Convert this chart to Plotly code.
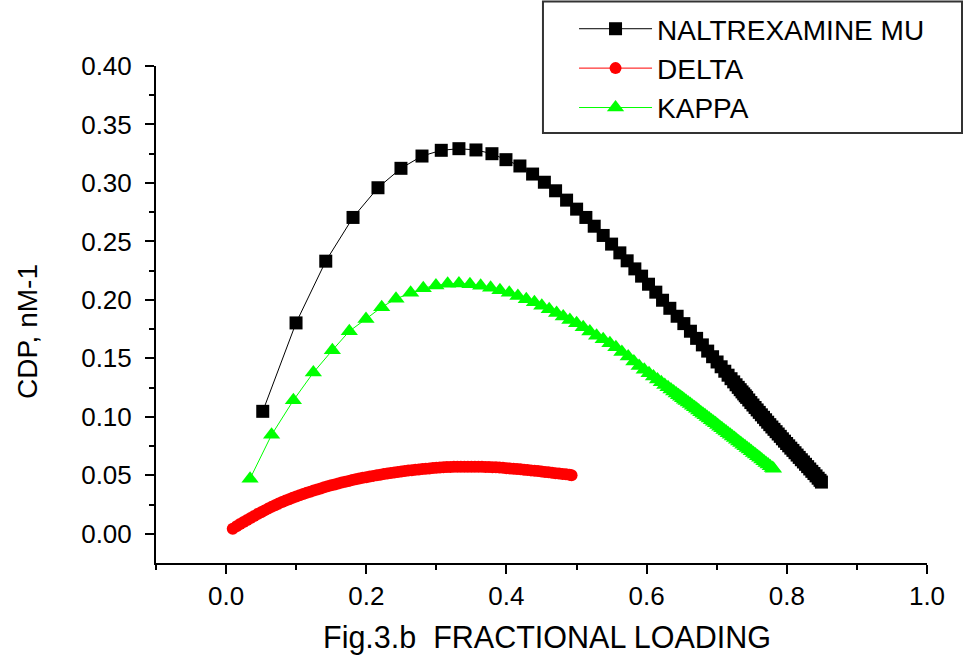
import plotly.graph_objects as go

# ---- data ----
mu_x = [0.0523, 0.0998, 0.1422, 0.1811, 0.2167, 0.2495, 0.2795, 0.3070, 0.3322, 0.3565,
        0.3793, 0.3993, 0.4192, 0.4373, 0.4541, 0.4701, 0.4858, 0.5001, 0.5133, 0.5252,
        0.5380, 0.5500, 0.5618, 0.5722, 0.5832, 0.5928, 0.6027, 0.6131, 0.6227, 0.6331,
        0.6435, 0.6531, 0.6625, 0.6713, 0.6795, 0.6871, 0.6941, 0.7005, 0.7063, 0.7115,
        0.7162, 0.7204, 0.7242, 0.7276, 0.7307, 0.7335, 0.7361, 0.7385, 0.7407, 0.7427,
        0.7457, 0.7487, 0.7517, 0.7547, 0.7577, 0.7607, 0.7637, 0.7667, 0.7697, 0.7727,
        0.7757, 0.7787, 0.7817, 0.7847, 0.7877, 0.7907, 0.7937, 0.7967, 0.7997, 0.8027,
        0.8057, 0.8087, 0.8117, 0.8147, 0.8177, 0.8207, 0.8237, 0.8267, 0.8297, 0.8327,
        0.8357, 0.8387, 0.8417, 0.8447, 0.8474, 0.8494]
mu_y = [0.1047, 0.1803, 0.2331, 0.2705, 0.2959, 0.3125, 0.3230, 0.3279, 0.3293, 0.3282,
        0.3250, 0.3199, 0.3145, 0.3076, 0.3006, 0.2933, 0.2853, 0.2776, 0.2705, 0.2630,
        0.2551, 0.2477, 0.2402, 0.2334, 0.2265, 0.2203, 0.2134, 0.2066, 0.1997, 0.1928,
        0.1860, 0.1797, 0.1732, 0.1671, 0.1615, 0.1562, 0.1514, 0.1469, 0.1428, 0.1390,
        0.1356, 0.1326, 0.1299, 0.1274, 0.1252, 0.1232, 0.1213, 0.1196, 0.1180, 0.1166,
        0.1144, 0.1122, 0.1101, 0.1080, 0.1059, 0.1038, 0.1017, 0.0996, 0.0975, 0.0954,
        0.0933, 0.0913, 0.0893, 0.0873, 0.0853, 0.0833, 0.0812, 0.0792, 0.0772, 0.0752,
        0.0732, 0.0713, 0.0693, 0.0673, 0.0653, 0.0633, 0.0614, 0.0594, 0.0574, 0.0554,
        0.0534, 0.0515, 0.0495, 0.0475, 0.0457, 0.0442]

delta_x = [0.0095, 0.015, 0.020, 0.025, 0.030, 0.035, 0.040, 0.045, 0.050, 0.055,
           0.060, 0.065, 0.070, 0.075, 0.080, 0.085, 0.090, 0.095, 0.100, 0.105,
           0.110, 0.115, 0.120, 0.125, 0.130, 0.135, 0.140, 0.145, 0.150, 0.155,
           0.160, 0.165, 0.170, 0.175, 0.180, 0.185, 0.190, 0.195, 0.200, 0.205,
           0.210, 0.215, 0.220, 0.225, 0.230, 0.235, 0.240, 0.245, 0.250, 0.255,
           0.260, 0.265, 0.270, 0.275, 0.280, 0.285, 0.290, 0.295, 0.300, 0.305,
           0.310, 0.315, 0.320, 0.325, 0.330, 0.335, 0.340, 0.345, 0.350, 0.355,
           0.360, 0.365, 0.370, 0.375, 0.380, 0.385, 0.390, 0.395, 0.400, 0.405,
           0.410, 0.415, 0.420, 0.425, 0.430, 0.435, 0.440, 0.445, 0.450, 0.455,
           0.460, 0.465, 0.470, 0.475, 0.480, 0.485, 0.490, 0.4929]
delta_y = [0.0043, 0.0064, 0.0083, 0.0101, 0.0118, 0.0135, 0.0151, 0.0168, 0.0184, 0.0200,
           0.0215, 0.0230, 0.0244, 0.0258, 0.0271, 0.0284, 0.0296, 0.0308, 0.0319, 0.0330,
           0.0340, 0.0350, 0.0360, 0.0370, 0.0379, 0.0388, 0.0397, 0.0406, 0.0414, 0.0422,
           0.0430, 0.0438, 0.0445, 0.0452, 0.0459, 0.0466, 0.0472, 0.0478, 0.0484, 0.0490,
           0.0495, 0.0500, 0.0505, 0.0510, 0.0515, 0.0520, 0.0524, 0.0528, 0.0532, 0.0536,
           0.0540, 0.0544, 0.0547, 0.0550, 0.0553, 0.0556, 0.0559, 0.0562, 0.0564, 0.0566,
           0.0568, 0.0570, 0.0571, 0.0572, 0.0573, 0.0574, 0.0574, 0.0574, 0.0574, 0.0574,
           0.0573, 0.0572, 0.0571, 0.0570, 0.0569, 0.0568, 0.0566, 0.0564, 0.0561, 0.0559,
           0.0556, 0.0554, 0.0551, 0.0548, 0.0545, 0.0542, 0.0539, 0.0536, 0.0532, 0.0529,
           0.0525, 0.0522, 0.0518, 0.0515, 0.0511, 0.0508, 0.0504, 0.0501]

kappa_x = [0.0342, 0.0649, 0.0960, 0.1245, 0.1516, 0.1758, 0.1996, 0.2220, 0.2424, 0.2633,
           0.2813, 0.2994, 0.3161, 0.3322, 0.3479, 0.3632, 0.3774, 0.3907, 0.4040, 0.4163,
           0.4283, 0.4399, 0.4504, 0.4610, 0.4715, 0.4810, 0.4905, 0.5001, 0.5095, 0.5190,
           0.5286, 0.5380, 0.5476, 0.5561, 0.5647, 0.5737, 0.5818, 0.5893, 0.5966, 0.6034,
           0.6097, 0.6155, 0.6209, 0.6259, 0.6305, 0.6347, 0.6386, 0.6422, 0.6455, 0.6485,
           0.6513, 0.6539, 0.6563, 0.6593, 0.6623, 0.6653, 0.6683, 0.6713, 0.6743, 0.6773,
           0.6803, 0.6833, 0.6863, 0.6893, 0.6923, 0.6953, 0.6983, 0.7013, 0.7043, 0.7073,
           0.7103, 0.7133, 0.7163, 0.7193, 0.7223, 0.7253, 0.7283, 0.7313, 0.7343, 0.7373,
           0.7403, 0.7433, 0.7463, 0.7493, 0.7523, 0.7553, 0.7583, 0.7613, 0.7643, 0.7673,
           0.7703, 0.7733, 0.7763, 0.7793, 0.7810]
kappa_y = [0.0471, 0.0846, 0.1141, 0.1378, 0.1569, 0.1732, 0.1837, 0.1938, 0.2009, 0.2060,
           0.2100, 0.2123, 0.2138, 0.2140, 0.2134, 0.2120, 0.2103, 0.2083, 0.2060, 0.2033,
           0.2006, 0.1979, 0.1949, 0.1919, 0.1888, 0.1858, 0.1829, 0.1800, 0.1766, 0.1729,
           0.1694, 0.1664, 0.1629, 0.1595, 0.1555, 0.1515, 0.1473, 0.1435, 0.1403, 0.1373,
           0.1345, 0.1319, 0.1295, 0.1273, 0.1252, 0.1233, 0.1216, 0.1199, 0.1185, 0.1171,
           0.1158, 0.1147, 0.1136, 0.1122, 0.1109, 0.1095, 0.1081, 0.1068, 0.1054, 0.1040,
           0.1026, 0.1013, 0.0999, 0.0985, 0.0971, 0.0957, 0.0944, 0.0930, 0.0916, 0.0902,
           0.0888, 0.0874, 0.0860, 0.0846, 0.0832, 0.0818, 0.0804, 0.0790, 0.0776, 0.0762,
           0.0748, 0.0734, 0.0720, 0.0705, 0.0691, 0.0677, 0.0663, 0.0649, 0.0634, 0.0620,
           0.0606, 0.0592, 0.0577, 0.0563, 0.0555]

y_ticks = [0.00, 0.05, 0.10, 0.15, 0.20, 0.25, 0.30, 0.35, 0.40]
x_ticks = [0.0, 0.2, 0.4, 0.6, 0.8, 1.0]

FONT = "Arial, Liberation Sans, sans-serif"

fig = go.Figure()
fig.add_trace(go.Scatter(x=mu_x, y=mu_y, mode="lines+markers", name="NALTREXAMINE MU",
                         line=dict(color="black", width=1),
                         marker=dict(symbol="square", size=13, color="black")))
fig.add_trace(go.Scatter(x=delta_x, y=delta_y, mode="lines+markers", name="DELTA",
                         line=dict(color="#ff0000", width=1),
                         marker=dict(symbol="circle", size=12, color="#ff0000")))
fig.add_trace(go.Scatter(x=kappa_x, y=kappa_y, mode="lines+markers", name="KAPPA",
                         line=dict(color="#00ff00", width=1),
                         marker=dict(symbol="triangle-up", size=15, color="#00ff00")))

fig.update_layout(
    width=964, height=666,
    margin=dict(l=156, r=37, t=66, b=103, autoexpand=False),
    paper_bgcolor="white", plot_bgcolor="white",
    font=dict(family=FONT, size=26, color="black"),
    showlegend=True,
    legend=dict(x=0.5422, y=1.1247, xanchor="left", yanchor="top",
                borderwidth=0, bgcolor="rgba(0,0,0,0)",
                font=dict(size=28), itemwidth=73, itemsizing="trace"),
    xaxis=dict(range=[-0.1, 1.0], tickvals=x_ticks, ticktext=[f"{v:.1f}" for v in x_ticks],
               showgrid=False, zeroline=False, showline=True, linecolor="black", linewidth=2,
               ticks="outside", ticklen=9, tickwidth=2, tickcolor="black",
               tickfont=dict(size=26),
               minor=dict(ticks="outside", ticklen=5, tickwidth=2, tickcolor="black",
                          tickvals=[-0.1, 0.1, 0.3, 0.5, 0.7, 0.9])),
    yaxis=dict(range=[-0.025, 0.40], tickvals=y_ticks, ticktext=[f"{v:.2f}" for v in y_ticks],
               showgrid=False, zeroline=False, showline=True, linecolor="black", linewidth=2,
               ticks="outside", ticklen=9, tickwidth=2, tickcolor="black",
               tickfont=dict(size=26), ticklabelstandoff=8,
               minor=dict(ticks="outside", ticklen=5, tickwidth=2, tickcolor="black",
                          tickvals=[0.025, 0.075, 0.125, 0.175, 0.225, 0.275, 0.325, 0.375])),
    shapes=[dict(type="rect", xref="paper", yref="paper", x0=0.5019, x1=1.0454,
                 y0=0.8652, y1=1.1298, line=dict(color="#333333", width=2),
                 fillcolor="rgba(0,0,0,0)", layer="below")],
    annotations=[
        dict(text="CDP, nM-1", xref="paper", yref="paper", x=-0.166, y=0.465,
             xanchor="center", yanchor="middle", textangle=-90, showarrow=False,
             font=dict(size=28)),
        dict(text="Fig.3.b  FRACTIONAL LOADING", xref="paper", yref="paper", x=0.507, y=-0.149,
             xanchor="center", yanchor="middle", showarrow=False, font=dict(size=30.5)),
    ],
)

fig.write_html("out.html", config={"displayModeBar": False},
               post_script="document.body.style.margin='0px';document.body.style.overflow='hidden';")
